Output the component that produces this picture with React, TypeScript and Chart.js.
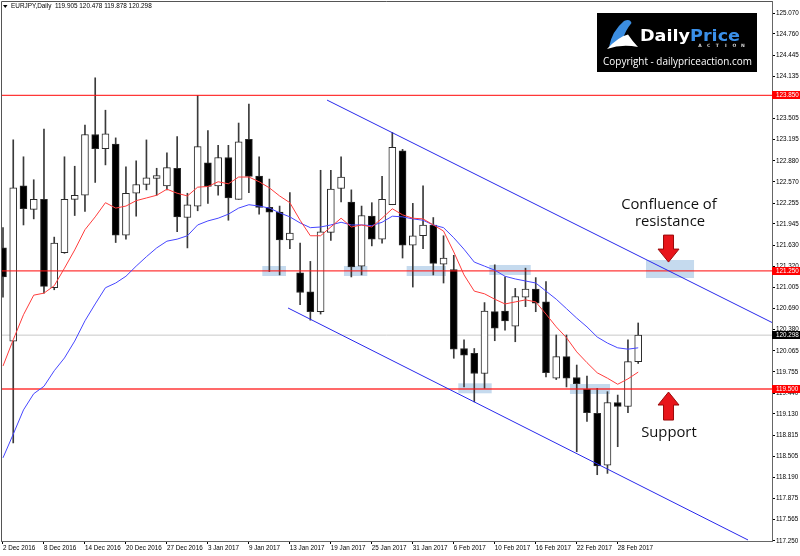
import React, { useEffect, useRef } from 'react';
import { Chart, registerables } from 'chart.js';

Chart.register(...registerables);

// ---- data ----
const dateLabels = ['2 Dec 2016', '8 Dec 2016', '14 Dec 2016', '20 Dec 2016', '27 Dec 2016', '3 Jan 2017', '9 Jan 2017', '13 Jan 2017', '19 Jan 2017', '25 Jan 2017', '31 Jan 2017', '6 Feb 2017', '10 Feb 2017', '16 Feb 2017', '22 Feb 2017', '28 Feb 2017'];
const labelStep = 4;

const priceTicks = [125.070, 124.760, 124.445, 124.135, 123.820, 123.505, 123.195, 122.880, 122.570, 122.255, 121.945, 121.630, 121.320, 121.005, 120.690, 120.380, 120.065, 119.755, 119.440, 119.130, 118.815, 118.505, 118.190, 117.875, 117.565, 117.250];

const opens = [121.59, 120.21, 122.51, 122.16, 122.31, 121.00, 121.52, 122.31, 122.37, 123.27, 123.06, 123.13, 121.78, 122.40, 122.53, 122.62, 122.51, 122.77, 122.04, 122.21, 122.85, 122.51, 122.93, 122.31, 123.20, 122.655, 122.19, 122.12, 121.71, 121.22, 120.94, 120.645, 121.82, 122.47, 122.27, 121.32, 122.06, 121.72, 122.23, 123.03, 121.63, 121.77, 121.93, 121.35, 121.27, 120.10, 120.03, 119.73, 120.645, 120.655, 120.43, 120.86, 120.98, 120.79, 119.66, 119.98, 119.67, 119.495, 119.14, 118.37, 119.30, 119.24, 119.905];
const highs = [121.89, 123.19, 122.94, 122.60, 123.35, 121.75, 122.94, 122.80, 123.41, 124.11, 123.63, 123.22, 122.79, 122.88, 123.19, 122.77, 123.00, 123.24, 122.40, 123.85, 123.33, 123.11, 123.11, 123.44, 123.72, 122.94, 122.61, 122.21, 122.41, 121.66, 121.39, 122.74, 122.74, 122.94, 122.45, 122.21, 122.26, 122.65, 123.30, 123.05, 122.25, 122.51, 122.04, 121.77, 121.48, 120.23, 120.10, 120.78, 121.34, 121.16, 120.99, 121.29, 121.15, 121.09, 120.30, 120.30, 119.855, 119.69, 119.51, 119.46, 119.41, 120.23, 120.478];
const lows = [120.86, 118.70, 121.93, 122.02, 120.92, 120.97, 121.51, 122.07, 122.13, 122.56, 122.82, 121.67, 121.72, 122.06, 122.45, 122.37, 122.45, 121.83, 121.59, 122.14, 122.25, 122.37, 122.00, 122.31, 122.41, 122.09, 121.24, 121.19, 121.58, 120.75, 120.52, 120.61, 121.70, 122.27, 121.16, 121.19, 121.62, 121.66, 122.23, 121.44, 121.01, 121.58, 121.19, 121.07, 119.955, 119.53, 119.31, 119.51, 120.215, 120.37, 120.20, 120.72, 120.645, 119.68, 119.64, 119.53, 118.57, 119.02, 118.23, 118.25, 118.645, 119.15, 119.878];
const closes = [121.16, 122.48, 122.17, 122.31, 121.02, 121.66, 122.31, 122.37, 123.27, 123.06, 123.28, 121.78, 122.40, 122.53, 122.63, 122.66, 122.78, 122.05, 122.23, 123.09, 122.50, 122.93, 122.33, 123.16, 122.65, 122.19, 122.12, 121.71, 121.81, 120.93, 120.645, 121.83, 122.46, 122.64, 121.31, 122.07, 121.72, 122.31, 123.08, 121.63, 121.77, 121.93, 121.36, 121.44, 120.09, 120.00, 119.73, 120.655, 120.40, 120.51, 120.87, 120.98, 120.77, 119.74, 119.98, 119.66, 119.58, 119.15, 118.36, 119.30, 119.24, 119.905, 120.298];

const maFast = [119.84, 120.23, 120.60, 120.89, 120.92, 121.03, 121.29, 121.56, 121.86, 122.05, 122.26, 122.18, 122.21, 122.29, 122.33, 122.37, 122.46, 122.40, 122.36, 122.49, 122.50, 122.57, 122.54, 122.64, 122.64, 122.57, 122.48, 122.36, 122.26, 122.00, 121.77, 121.77, 121.90, 122.03, 121.90, 121.93, 121.90, 122.03, 122.17, 122.08, 122.03, 122.02, 121.93, 121.84, 121.53, 121.19, 120.95, 120.91, 120.83, 120.76, 120.79, 120.82, 120.79, 120.61, 120.42, 120.26, 120.05, 119.89, 119.74, 119.66, 119.57, 119.65, 119.75];
const maSlow = [118.48, 118.83, 119.19, 119.43, 119.54, 119.77, 119.96, 120.21, 120.51, 120.76, 121.00, 121.07, 121.17, 121.32, 121.46, 121.59, 121.69, 121.72, 121.77, 121.93, 121.99, 122.03, 122.09, 122.18, 122.23, 122.21, 122.18, 122.11, 122.05, 121.96, 121.89, 121.90, 121.93, 121.97, 121.93, 121.93, 121.92, 121.97, 122.06, 122.05, 122.02, 122.00, 121.93, 121.89, 121.74, 121.57, 121.38, 121.32, 121.26, 121.17, 121.13, 121.10, 121.07, 120.95, 120.83, 120.69, 120.55, 120.42, 120.27, 120.18, 120.11, 120.09, 120.11];

const levelLines = [123.850, 121.250, 119.500];
const lastPrice = 120.298;
const headerText = 'EURJPY,Daily  119.905 120.478 119.878 120.298';

// trend channel endpoints: [barIndex, price]
const upperChannel = [[31.63, 123.78], [75.06, 120.485]];
const lowerChannel = [[27.82, 120.70], [72.72, 117.263]];

// highlighted zones: [fromBar, toBar, lowPrice, highPrice]
const zones = [
  [25.31, 27.62, 121.174, 121.322],
  [33.28, 35.56, 121.174, 121.322],
  [39.40, 43.24, 121.174, 121.322],
  [47.47, 51.51, 121.189, 121.337],
  [44.44, 47.70, 119.436, 119.584],
  [55.34, 59.25, 119.426, 119.574],
  [62.76, 67.45, 121.144, 121.411],
];

// annotations: [bar, price, text]
const notes: [number, number, string][] = [
  [65.0, 122.226, 'Confluence of'],
  [65.1, 121.974, 'resistance'],
  [65.0, 118.848, 'Support'],
];
// arrows: [bar, tailPrice, tipPrice]
const arrows = [
  [64.96, 121.78, 121.38],
  [64.96, 119.04, 119.455],
];

const X_MIN = -0.195;
const X_MAX = 75.06;
const Y_MIN = 117.248;
const Y_MAX = 125.248;

const SMALL_FONT = '"Liberation Sans", Arial, sans-serif';

const overlayPlugin = {
  id: 'overlay',
  beforeDatasetsDraw(chart: any) {
    const { ctx, chartArea, scales } = chart;
    const xs = scales.x, ys = scales.y;
    ctx.save();
    ctx.beginPath();
    ctx.rect(chartArea.left, chartArea.top, chartArea.right - chartArea.left, chartArea.bottom - chartArea.top);
    ctx.clip();
    ctx.fillStyle = 'rgba(178, 206, 232, 0.75)';
    zones.forEach(([a, b, lo, hi]) => {
      const x0 = xs.getPixelForValue(a), x1 = xs.getPixelForValue(b);
      const y0 = ys.getPixelForValue(hi), y1 = ys.getPixelForValue(lo);
      ctx.fillRect(x0, y0, x1 - x0, y1 - y0);
    });
    ctx.restore();
  },
  afterDraw(chart: any) {
    const { ctx, chartArea, scales } = chart;
    const xs = scales.x, ys = scales.y;
    ctx.save();
    // frame
    ctx.strokeStyle = '#555';
    ctx.lineWidth = 1;
    ctx.beginPath();
    ctx.moveTo(chartArea.left + 0.5, chartArea.bottom);
    ctx.lineTo(chartArea.left + 0.5, chartArea.top + 0.5);
    ctx.lineTo(chartArea.right, chartArea.top + 0.5);
    ctx.stroke();

    // header
    ctx.fillStyle = '#000';
    ctx.beginPath();
    ctx.moveTo(3, 5);
    ctx.lineTo(7.5, 5);
    ctx.lineTo(5.25, 8);
    ctx.closePath();
    ctx.fill();
    ctx.font = `6.4px ${SMALL_FONT}`;
    ctx.textBaseline = 'middle';
    ctx.textAlign = 'left';
    ctx.fillText(headerText, 11, 6.5);

    // price tags
    const tag = (price: number, bg: string) => {
      const y = ys.getPixelForValue(price);
      ctx.fillStyle = bg;
      ctx.fillRect(chartArea.right, Math.round(y) - 4, 800 - chartArea.right, 8);
      ctx.fillStyle = '#fff';
      ctx.font = `6.3px ${SMALL_FONT}`;
      ctx.textAlign = 'left';
      ctx.textBaseline = 'middle';
      ctx.fillText(price.toFixed(3), chartArea.right + 4, Math.round(y));
    };
    levelLines.forEach((p) => tag(p, '#ff0000'));
    tag(lastPrice, '#000000');

    // annotation text
    ctx.fillStyle = '#111';
    ctx.font = '14.8px "Open Sans", sans-serif';
    ctx.textAlign = 'center';
    ctx.textBaseline = 'middle';
    notes.forEach(([b, p, t]) => {
      ctx.fillText(t, xs.getPixelForValue(b), ys.getPixelForValue(p));
    });

    // arrows
    arrows.forEach(([b, tail, tip]) => {
      const cx = xs.getPixelForValue(b);
      const yTail = ys.getPixelForValue(tail);
      const yTip = ys.getPixelForValue(tip);
      const dir = yTip > yTail ? 1 : -1;
      const headLen = 13;
      const yNeck = yTip - dir * headLen;
      ctx.beginPath();
      ctx.moveTo(cx - 5, yTail);
      ctx.lineTo(cx + 5, yTail);
      ctx.lineTo(cx + 5, yNeck);
      ctx.lineTo(cx + 10.5, yNeck);
      ctx.lineTo(cx, yTip);
      ctx.lineTo(cx - 10.5, yNeck);
      ctx.lineTo(cx - 5, yNeck);
      ctx.closePath();
      ctx.fillStyle = '#e8151b';
      ctx.fill();
      ctx.strokeStyle = '#9a0a0a';
      ctx.lineWidth = 1;
      ctx.stroke();
    });

    // logo box
    ctx.fillStyle = '#000';
    ctx.fillRect(597, 13, 160, 59);
    ctx.fillStyle = '#3b8de0';
    ctx.beginPath();
    ctx.moveTo(609, 47);
    ctx.quadraticCurveTo(612, 31, 624, 21);
    ctx.quadraticCurveTo(630, 18, 631.5, 23);
    ctx.quadraticCurveTo(625, 31, 623, 39);
    ctx.quadraticCurveTo(616, 42, 609, 47);
    ctx.fill();
    ctx.fillStyle = '#ffffff';
    ctx.beginPath();
    ctx.moveTo(607, 49);
    ctx.quadraticCurveTo(618, 37, 628, 34.5);
    ctx.quadraticCurveTo(633, 42, 638, 47);
    ctx.quadraticCurveTo(622, 43.5, 607, 49);
    ctx.fill();

    ctx.save();
    ctx.font = 'bold 15px "DejaVu Sans", sans-serif';
    ctx.textAlign = 'left';
    ctx.textBaseline = 'alphabetic';
    const wD = ctx.measureText('Daily').width;
    const wP = ctx.measureText('Price').width;
    const sx = 100 / (wD + wP);
    ctx.translate(640, 41);
    ctx.scale(sx, 1);
    ctx.fillStyle = '#ffffff';
    ctx.fillText('Daily', 0, 0);
    ctx.fillStyle = '#3a8fe8';
    ctx.fillText('Price', wD, 0);
    ctx.restore();

    ctx.font = 'bold 4.5px "DejaVu Sans", sans-serif';
    ctx.fillStyle = '#d8d8d8';
    ctx.textAlign = 'center';
    ctx.textBaseline = 'middle';
    'ACTION'.split('').forEach((ch, k) => ctx.fillText(ch, 700 + k * 8.6, 46));

    ctx.font = '11px "Open Sans", sans-serif';
    const cw = ctx.measureText('Copyright - dailypriceaction.com').width;
    const fs = 11 * 149 / cw;
    ctx.font = `${fs}px "Open Sans", sans-serif`;
    ctx.fillStyle = '#ffffff';
    ctx.textAlign = 'center';
    ctx.textBaseline = 'middle';
    ctx.fillText('Copyright - dailypriceaction.com', 677.5, 62.5);

    ctx.restore();
  },
};

export default function App() {
  const ref = useRef<HTMLCanvasElement | null>(null);

  useEffect(() => {
    if (!ref.current) return;
    const idx = opens.map((_, i) => i);
    const wickData = idx.map((i) => ({ x: i, y: [lows[i], highs[i]] }));
    const bodyData = idx.map((i) => ({ x: i, y: [Math.min(opens[i], closes[i]), Math.max(opens[i], closes[i])] }));
    const bodyColors = idx.map((i) => (closes[i] >= opens[i] ? '#ffffff' : '#000000'));

    const lineDs = (data: any[], color: string, width: number, order: number) => ({
      type: 'line' as const,
      data,
      borderColor: color,
      borderWidth: width,
      pointRadius: 0,
      tension: 0,
      fill: false,
      order,
    });

    const datasets: any[] = [
      lineDs(idx.map((i) => ({ x: i, y: maFast[i] })), 'rgba(255,60,60,1)', 1, 0),
      lineDs(idx.map((i) => ({ x: i, y: maSlow[i] })), 'rgba(70,70,255,1)', 1, 0),
      lineDs(upperChannel.map(([x, y]) => ({ x, y })), 'rgba(40,40,235,1)', 1, 1),
      lineDs(lowerChannel.map(([x, y]) => ({ x, y })), 'rgba(40,40,235,1)', 1, 1),
      ...levelLines.map((p) => lineDs([{ x: X_MIN, y: p }, { x: X_MAX, y: p }], 'rgba(255,20,20,0.85)', 1.3, 2)),
      lineDs([{ x: X_MIN, y: lastPrice }, { x: X_MAX, y: lastPrice }], '#c8c8c8', 1, 6),
      {
        type: 'bar',
        data: bodyData,
        backgroundColor: bodyColors,
        borderColor: '#2a2a2a',
        borderWidth: 1,
        borderSkipped: false,
        barThickness: 7,
        grouped: false,
        order: 4,
      },
      {
        type: 'bar',
        data: wickData,
        backgroundColor: '#3a3a3a',
        borderWidth: 0,
        barThickness: 1,
        grouped: false,
        order: 5,
      },
    ];

    const chart = new Chart(ref.current, {
      type: 'bar',
      data: { datasets },
      options: {
        animation: false,
        responsive: false,
        maintainAspectRatio: false,
        events: [],
        layout: { padding: { left: 1, top: 1, right: 0, bottom: 0 } },
        plugins: { legend: { display: false }, tooltip: { enabled: false } },
        scales: {
          x: {
            type: 'linear',
            min: X_MIN,
            max: X_MAX,
            offset: false,
            position: 'bottom',
            afterBuildTicks: (s: any) => {
              s.ticks = dateLabels.map((_, k) => ({ value: k * labelStep }));
            },
            afterFit: (s: any) => {
              s.height = 15;
              s.paddingLeft = 0;
              s.paddingRight = 0;
            },
            ticks: {
              autoSkip: false,
              maxRotation: 0,
              minRotation: 0,
              align: 'start',
              padding: 0,
              color: '#000',
              font: { family: SMALL_FONT, size: 6.3 },
              callback: (v: any) => dateLabels[Math.round(Number(v) / labelStep)] ?? '',
            },
            grid: { display: true, drawOnChartArea: false, drawTicks: true, tickLength: 3, color: '#000', offset: false },
            border: { display: true, color: '#666' },
          },
          y: {
            type: 'linear',
            position: 'right',
            min: Y_MIN,
            max: Y_MAX,
            afterBuildTicks: (s: any) => {
              s.ticks = priceTicks.map((v) => ({ value: v }));
            },
            afterFit: (s: any) => {
              s.width = 28;
              s.paddingTop = 0;
              s.paddingBottom = 0;
            },
            ticks: {
              autoSkip: false,
              padding: 1,
              color: '#000',
              font: { family: SMALL_FONT, size: 6.3 },
              callback: (v: any) => Number(v).toFixed(3),
            },
            grid: { display: true, drawOnChartArea: false, drawTicks: true, tickLength: 3, color: '#000' },
            border: { display: true, color: '#666' },
          },
        },
      } as any,
      plugins: [overlayPlugin],
    } as any);

    return () => chart.destroy();
  }, []);

  return (
    <div style={{ position: 'fixed', left: 0, top: 0, width: 800, height: 556, background: '#fff' }}>
      <canvas ref={ref} width={800} height={556} style={{ display: 'block' }} />
    </div>
  );
}
